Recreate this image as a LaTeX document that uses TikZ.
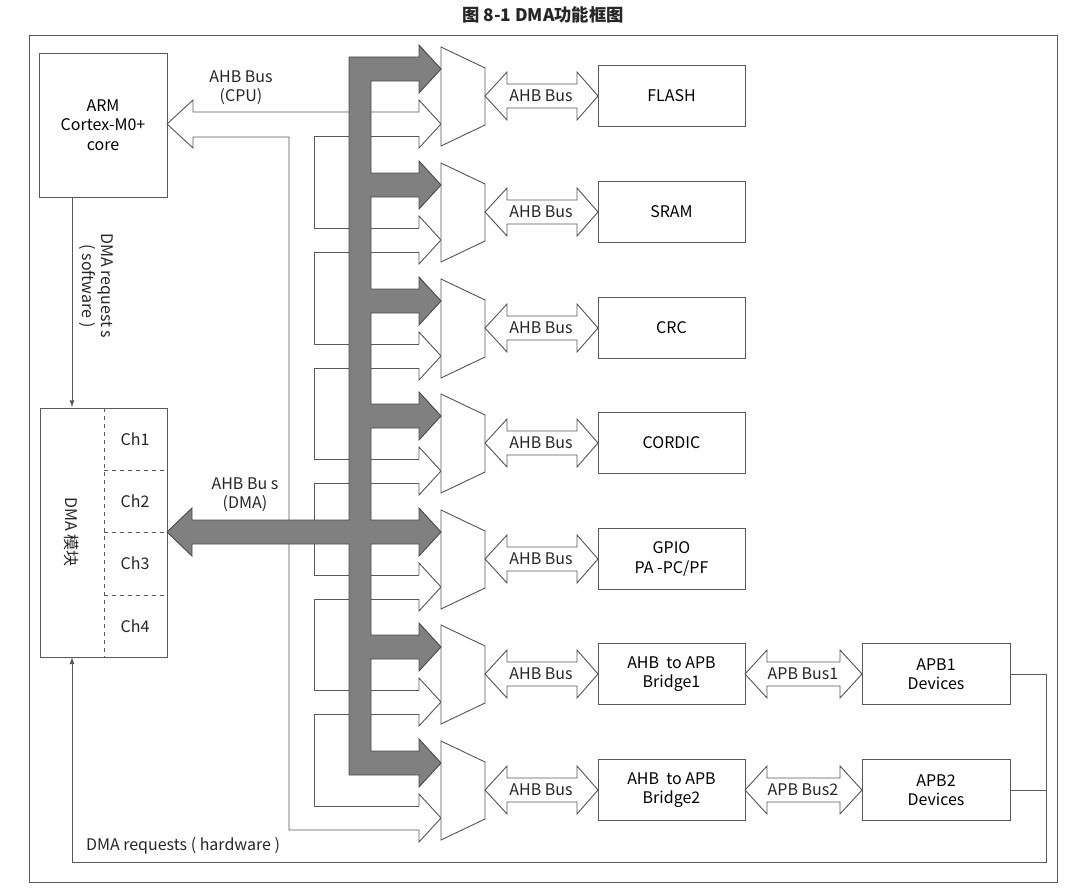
\documentclass[tikz,border=0pt]{standalone}
\usepackage{fontspec}
\setmainfont{Noto Sans CJK SC}
\begin{document}
\begin{tikzpicture}[x=0.75pt,y=-0.75pt,
  ln/.style={draw=black!65,line width=0.7pt},
  box/.style={ln,fill=white,inner sep=0pt,align=center,font=\fontsize{12}{14.5}\selectfont},
  lbl/.style={inner sep=0pt,align=center,font=\fontsize{12}{14.5}\selectfont,text=black!85},
  darkbus/.style={fill=black!50,draw=black!70,line width=0.7pt,line join=miter}]
\useasboundingbox (0,0) rectangle (1080,892);
\node[font=\fontsize{13}{15}\selectfont\bfseries,text=black!85] (title) at (543,15) {图 8-1 DMA功能框图};
\draw[ln] (29,35) rectangle (1057,882);
% boxes
\node[box,minimum width=128*0.75pt,minimum height=144*0.75pt] (cpu) at (103,125) {ARM\\Cortex-M0+\\core};
\node[box,minimum width=127*0.75pt,minimum height=249*0.75pt] (dma) at (103.5,532.5) {};
\draw[ln,dashed] (104,408) -- (104,657);
\foreach \y in {470,532,595} \draw[ln,dashed] (104,\y) -- (167,\y);
\node[lbl,rotate=-90] (dmat) at (72,532) {DMA 模块};
\node[lbl] (c1) at (135,439) {Ch1};
\node[lbl] (c2) at (135,501) {Ch2};
\node[lbl] (c3) at (135,563) {Ch3};
\node[lbl] (c4) at (135,626) {Ch4};
\draw[ln,-latex] (72,197) -- (72,407);
\node[lbl,rotate=-90] (swl) at (96,286) {DMA request s\\( software )};
% CPU hollow bus
\draw[ln,fill=white] (419,112) -- (193,112) -- (193,100) -- (167,124) -- (193,148) -- (193,137) -- (289,137) -- (289,830) -- (419,830);
\node[lbl] (cpul) at (241,88) {AHB Bus\\(CPU)};
% mux inputs hollow
\foreach \c [count=\i] in {96,212,328,443,559,674,790}{
  \draw[ln] (419,\c+16) -- (419,\c+4) -- (441,\c+28) -- (419,\c+52) -- (419,\c+40);
  \draw[ln,fill=white] (441,\c-49) -- (485,\c-28) -- (485,\c+29) -- (441,\c+50) -- cycle;
  \draw[ln,fill=white] (485,\c) -- (507,\c-24) -- (507,\c-12) -- (577,\c-12) -- (577,\c-24) -- (598,\c) -- (577,\c+24) -- (577,\c+12) -- (507,\c+12) -- (507,\c+24) -- cycle;
  \node[lbl] at (541,\c) {AHB Bus};
}
\foreach \a/\b in {96/212,212/328,328/443,443/559,559/674,674/790}
  \draw[ln] (419,\a+40) -- (314,\a+40) -- (314,\b+16) -- (419,\b+16);
% dark bus
\path[darkbus] (349,57) -- (419,57) -- (419,45) -- (441,69) -- (419,93) -- (419,81) -- (371,81)
  \foreach \d in {185,301,416,532,647} { -- (371,\d-12) -- (419,\d-12) -- (419,\d-24) -- (441,\d) -- (419,\d+24) -- (419,\d+12) -- (371,\d+12) }
  -- (371,751) -- (419,751) -- (419,739) -- (441,763) -- (419,787) -- (419,775) -- (349,775)
  -- (349,544) -- (192,544) -- (192,556) -- (167,532) -- (192,508) -- (192,520) -- (349,520) -- cycle;
\node[lbl] (dmal) at (245,495) {AHB Bu  s\\(DMA)};
% targets
\node[box,minimum width=147*0.75pt,minimum height=61*0.75pt] (flash) at (671.5,96) {FLASH};
\node[box,minimum width=147*0.75pt,minimum height=61*0.75pt] (sram) at (671.5,212) {SRAM};
\node[box,minimum width=147*0.75pt,minimum height=61*0.75pt] (crc) at (671.5,328) {CRC};
\node[box,minimum width=147*0.75pt,minimum height=61*0.75pt] (cordic) at (671.5,443) {CORDIC};
\node[box,minimum width=147*0.75pt,minimum height=61*0.75pt] (gpio) at (671.5,559) {GPIO\\PA -PC/PF};
\node[box,minimum width=147*0.75pt,minimum height=61*0.75pt] (br1) at (671.5,674) {AHB\ \ to APB\\Bridge1};
\node[box,minimum width=147*0.75pt,minimum height=61*0.75pt] (br2) at (671.5,790) {AHB\ \ to APB\\Bridge2};
\node[box,minimum width=148*0.75pt,minimum height=61*0.75pt] (apb1) at (936,674) {APB1\\Devices};
\node[box,minimum width=148*0.75pt,minimum height=61*0.75pt] (apb2) at (936,790) {APB2\\Devices};
\foreach \c/\t in {674/APB Bus1,790/APB Bus2}{
  \draw[ln,fill=white] (745,\c) -- (767,\c-24) -- (767,\c-12) -- (840,\c-12) -- (840,\c-24) -- (862,\c) -- (840,\c+24) -- (840,\c+12) -- (767,\c+12) -- (767,\c+24) -- cycle;
  \node[lbl] at (803,\c) {\t};
}
\coordinate (r1) at (1046,674);
\coordinate (r2) at (1046,862);
\coordinate (r3) at (72,862);
\draw[ln] (apb2.east) -- (1046,790);
\draw[ln,-latex] (apb1.east) -- (r1) -- (r2) -- (r3) -- (dma.south -| r3);
\node[lbl] (hwl) at (183,846) {DMA requests ( hardware )};
\end{tikzpicture}
\end{document}
